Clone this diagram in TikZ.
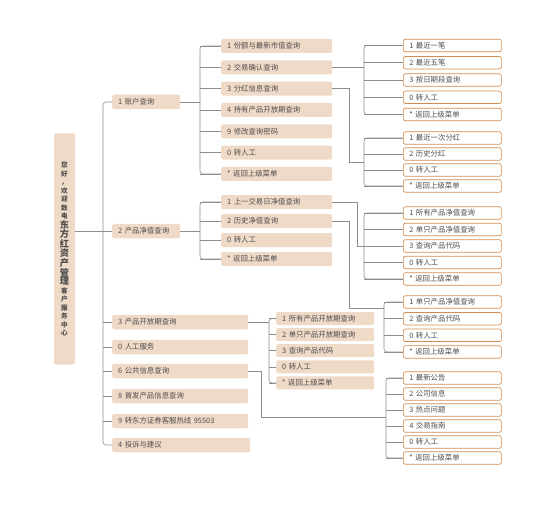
\documentclass[tikz,border=0pt]{standalone}
\usepackage{fontspec}
\setmainfont{Noto Sans CJK SC}
\usepackage{tikz}
\usetikzlibrary{positioning,calc}
\usepackage{xcolor}
\definecolor{sand}{HTML}{EFD9C7}
\definecolor{rust}{HTML}{D38C4E}
\definecolor{ink}{HTML}{4E4E4E}
\definecolor{wire}{HTML}{8E8E8E}

\tikzset{
  box/.style={anchor=west, rounded corners=2pt, inner xsep=6pt, inner ysep=0pt, align=left, text=ink, font=\fontsize{7.4}{8}\selectfont},
  menu/.style={box, fill=sand, text width=#1, minimum height=14.5pt},
  leaf/.style={box, fill=white, draw=rust, line width=0.7pt, text width=86pt, minimum height=12.5pt},
  link/.style={draw=wire, line width=0.6pt},
}
\newcommand{\smallch}{\fontsize{6.6}{8.5}\selectfont\bfseries}
\newcommand{\largech}[1]{{\fontsize{9.2}{10}\selectfont\bfseries #1}\\}
% spine of one group of children: x of spine, node prefix, number of children
\newcommand{\fanout}[3]{%
  \draw[link, rounded corners=3pt] (#21.west) -| (#1 |- #2#3.west) -- (#2#3.west);
  \foreach \k in {1,...,#3} \draw[link] (#1 |- #2\k.west) -- (#2\k.west);
}

\begin{document}
\begin{tikzpicture}[x=1pt, y=-1pt]
  \useasboundingbox (0,0) rectangle (559,505);

  % root
  \node[fill=sand, rounded corners=2pt, minimum width=21pt, minimum height=231pt, inner sep=0pt,
        align=center, text=ink, font=\smallch] (root) at (64.5,249)
    {您\\好\\，\\欢\\迎\\致\\电\\
     \largech{东}\largech{方}\largech{红}\largech{资}\largech{产}\largech{管}\largech{理}
     客\\户\\服\\务\\中\\心};

  % first level
  \node[menu=56pt] (acct) at (112,102) {1 账户查询};
  \node[menu=56pt] (nav) at (112,231) {2 产品净值查询};
  \node[menu=124pt] (open) at (112,322) {3 产品开放期查询};
  \node[menu=124pt] (human) at (112,347) {0 人工服务};
  \node[menu=124pt] (pub) at (112,371) {6 公共信息查询};
  \node[menu=124pt] (first) at (112,396) {8 首发产品信息查询};
  \node[menu=124pt] (hot) at (112,421) {9 转东方证券客服热线 95503};
  \node[menu=126pt] (ts) at (112,445) {4 投诉与建议};

  % second level
  \foreach \t [count=\i] in {1 份额与最新市值查询, 2 交易确认查询, 3 分红信息查询, 4 持有产品开放期查询, 9 修改查询密码, 0 转人工, * 返回上级菜单}
    \node[menu=99pt, minimum height=14pt] (acct\i) at (221,{46+21.33*(\i-1)}) {\t};
  \foreach \t [count=\i] in {1 上一交易日净值查询, 2 历史净值查询, 0 转人工, * 返回上级菜单}
    \node[menu=99pt, minimum height=14pt] (nav\i) at (221,{202+19*(\i-1)}) {\t};
  \foreach \t [count=\i] in {1 所有产品开放期查询, 2 单只产品开放期查询, 3 查询产品代码, 0 转人工, * 返回上级菜单}
    \node[menu=86pt, minimum height=13pt] (open\i) at (276,{318.5+16.1*(\i-1)}) {\t};

  % third level
  \foreach \t [count=\i] in {1 最近一笔, 2 最近五笔, 3 按日期段查询, 0 转人工, * 返回上级菜单}
    \node[leaf] (trade\i) at (403,{45.5+17.25*(\i-1)}) {\t};
  \foreach \t [count=\i] in {1 最近一次分红, 2 历史分红, 0 转人工, * 返回上级菜单}
    \node[leaf] (div\i) at (403,{138+16*(\i-1)}) {\t};
  \foreach \t [count=\i] in {1 所有产品净值查询, 2 单只产品净值查询, 3 查询产品代码, 0 转人工, * 返回上级菜单}
    \node[leaf] (navall\i) at (403,{213+16.5*(\i-1)}) {\t};
  \foreach \t [count=\i] in {1 单只产品净值查询, 2 查询产品代码, 0 转人工, * 返回上级菜单}
    \node[leaf] (navhis\i) at (403,{302+16.67*(\i-1)}) {\t};
  \foreach \t [count=\i] in {1 最新公告, 2 公司信息, 3 热点问题, 4 交易指南, 0 转人工, * 返回上级菜单}
    \node[leaf] (news\i) at (403,{378+16*(\i-1)}) {\t};

  % spines
  \coordinate (trunk) at (103,0);
  \coordinate (s1) at (200,0);
  \coordinate (s2) at (269,0);
  \coordinate (s3) at (364,0);
  \coordinate (s4) at (384,0);
  \coordinate (s5) at (386,0);
  \coordinate (j1) at (349,162);
  \coordinate (j2) at (357,0);
  \coordinate (j3) at (349,308);
  \coordinate (j4) at (261,417);

  % connectors
  \draw[link] (root.east |- nav.west) -- (nav.west);
  \draw[link, rounded corners=3pt] (acct.west) -| (trunk |- ts.west) -- (ts.west);
  \foreach \n in {open,human,pub,first,hot}
    \draw[link] (trunk |- \n.west) -- (\n.west);

  \draw[link] (acct.east) -- (s1 |- acct.east);
  \fanout{s1}{acct}{7}
  \draw[link] (nav.east) -- (s1 |- nav.east);
  \fanout{s1}{nav}{4}
  \draw[link] (open.east) -- (s2 |- open.east);
  \fanout{s2}{open}{5}

  \draw[link] (acct2.east) -- (s3 |- acct2.east);
  \fanout{s3}{trade}{5}
  \draw[link] (acct3.east) -| (j1) -- (s3 |- j1);
  \fanout{s3}{div}{4}
  \draw[link] (nav1.east) -| (j2 |- navall3.west) -- (navall3.west);
  \fanout{s3}{navall}{5}
  \draw[link] (nav2.east) -| (j3) -- (s4 |- j3);
  \fanout{s4}{navhis}{4}
  \draw[link] (pub.east) -| (j4) -- (s5 |- j4);
  \fanout{s5}{news}{6}
\end{tikzpicture}
\end{document}
